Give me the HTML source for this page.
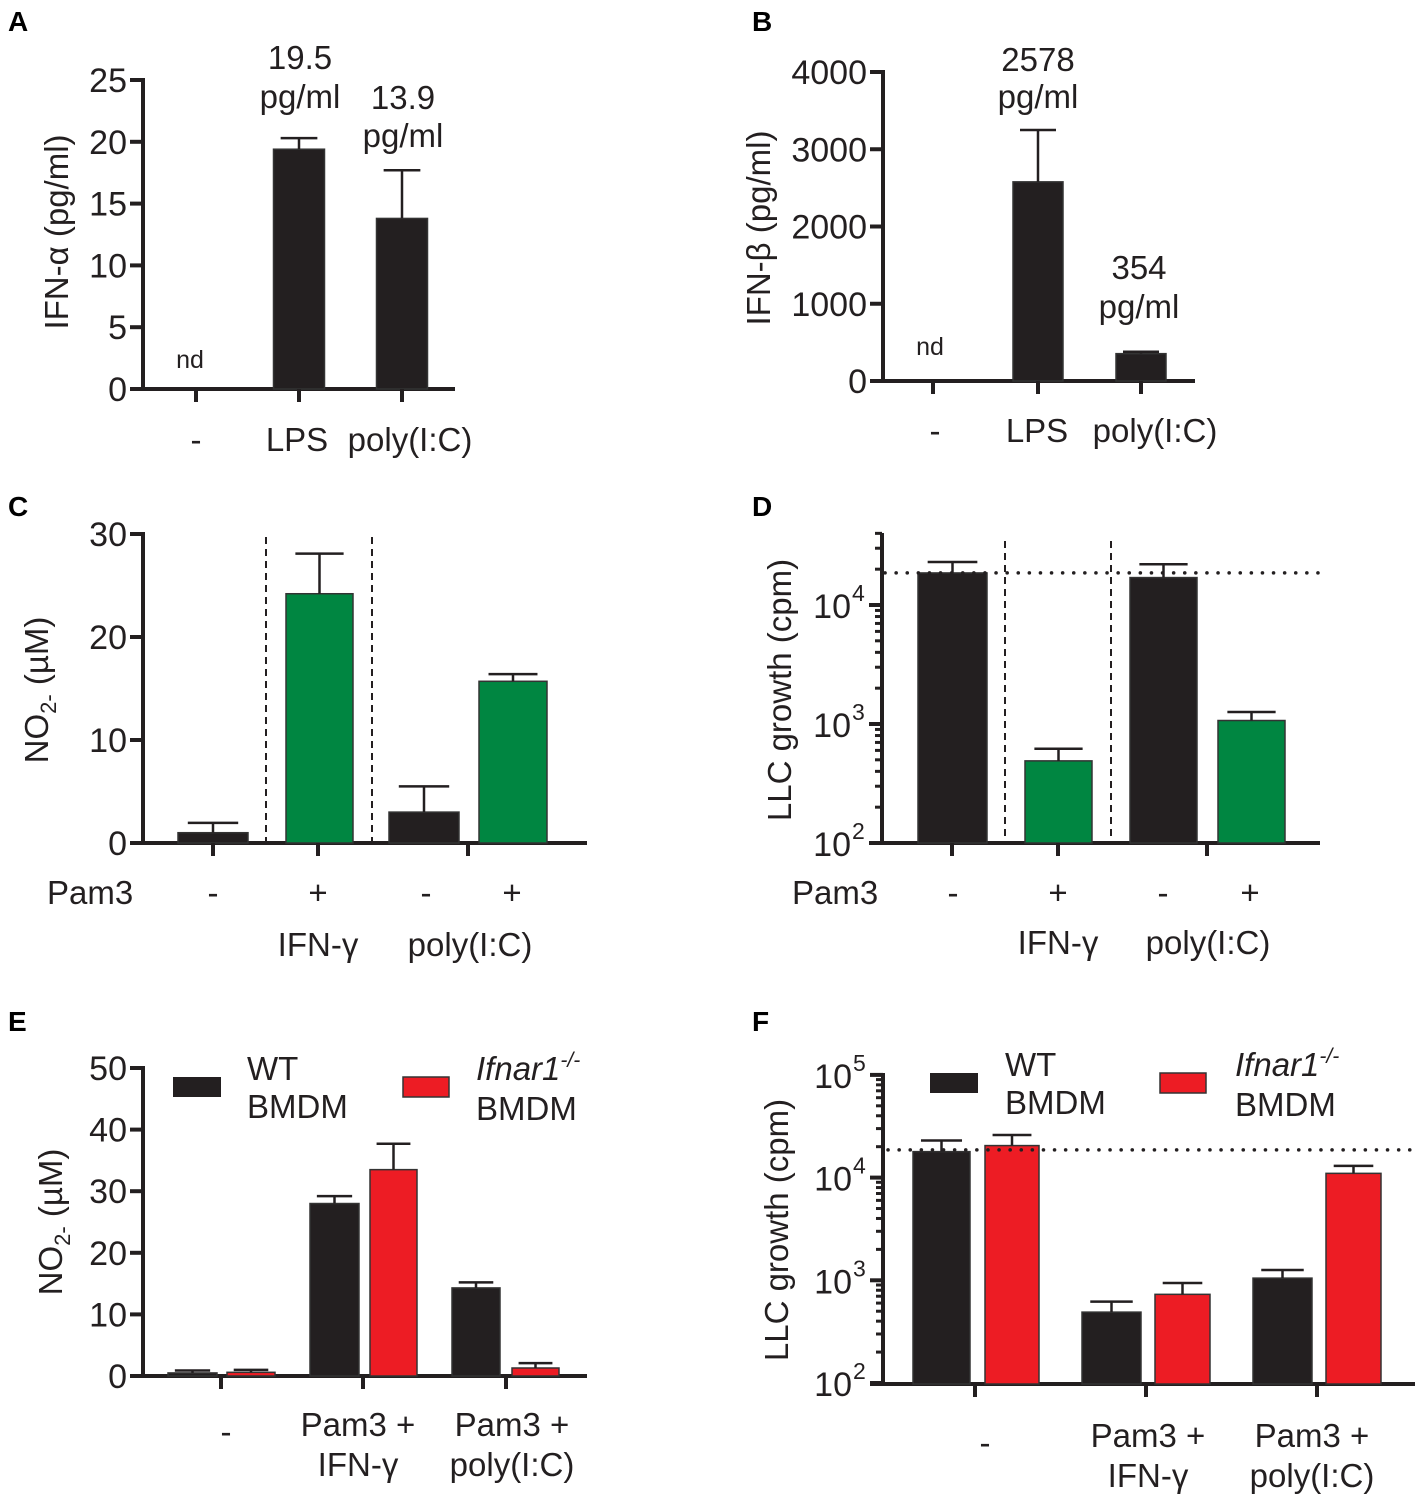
<!DOCTYPE html>
<html><head><meta charset="utf-8">
<style>
html,body{margin:0;padding:0;background:#fff;}
svg{display:block;font-family:"Liberation Sans",Arial,sans-serif;}
</style></head>
<body>
<svg id="fig" width="1417" height="1498" viewBox="0 0 1417 1498" xmlns="http://www.w3.org/2000/svg"></svg>
<script>
// ---- Panel A data ----
const aCats = ["-", "LPS", "poly(I:C)"];
const aVals = [0, 19.4, 13.8];
const aErrs = [0, 20.3, 17.7];
const aTicks = [0, 5, 10, 15, 20, 25];
// ---- Panel B data ----
const bCats = ["-", "LPS", "poly(I:C)"];
const bVals = [0, 2578, 354];
const bErrs = [0, 3250, 378];
const bTicks = [0, 1000, 2000, 3000, 4000];
// ---- Panel C data ----
const cPam3 = ["-", "+", "-", "+"];
const cVals = [1.0, 24.2, 3.0, 15.7];
const cErrs = [1.95, 28.1, 5.5, 16.4];
const cTicks = [0, 10, 20, 30];
// ---- Panel D data ----
const dPam3 = ["-", "+", "-", "+"];
const dVals = [18600, 490, 17000, 1070];
const dErrs = [23000, 620, 22000, 1260];
const dBaseline = 18600;
const dDecades = [2, 3, 4];
// ---- Panel E data ----
const eGroups = ["-", "Pam3 +|IFN-γ", "Pam3 +|poly(I:C)"];
const eWT = [0.5, 28.0, 14.3];
const eWTErr = [0.9, 29.2, 15.2];
const eKO = [0.6, 33.5, 1.3];
const eKOErr = [1.0, 37.7, 2.1];
const eTicks = [0, 10, 20, 30, 40, 50];
// ---- Panel F data ----
const fGroups = ["-", "Pam3 +|IFN-γ", "Pam3 +|poly(I:C)"];
const fWT = [17900, 490, 1050];
const fWTErr = [23000, 620, 1260];
const fKO = [20500, 730, 11000];
const fKOErr = [26000, 940, 13000];
const fBaseline = 18600;
const fDecades = [2, 3, 4, 5];

const NS = "http://www.w3.org/2000/svg";
const svg = document.getElementById("fig");
const INK = "#231f20", GREEN = "#008641", RED = "#ed1c24";
const TS = 34, LS = 33, TT = 33;
function el(tag, attrs, parent) {
  const e = document.createElementNS(NS, tag);
  for (const k in attrs) e.setAttribute(k, attrs[k]);
  (parent || svg).appendChild(e);
  return e;
}
function txt(x, y, s, size, anchor, parent, extra) {
  const t = el("text", Object.assign({x: x, y: y, "font-size": size, "text-anchor": anchor || "middle", fill: INK}, extra || {}), parent);
  t.textContent = s;
  return t;
}
function linScale(v0, v1, p0, p1) { return v => p0 + (v - v0) / (v1 - v0) * (p1 - p0); }
function logScale(d0, p0, perDec) { return v => p0 - (Math.log10(v) - d0) * perDec; }

function panelLetter(x, y, s) {
  const t = txt(x, y, s, 28, "start", null, {"font-weight": "bold", fill: "#000"});
  
  
}
function yTitle(x, y, parts, g) {
  const t = el("text", {transform: `translate(${x},${y}) rotate(-90)`, "font-size": TT, "text-anchor": "middle", fill: INK}, g);
  parts.forEach(p => {
    const s = el("tspan", p.sub ? {"font-size": 22, dy: 8} : (p.after ? {dy: -8} : {}), t);
    s.textContent = p.t;
  });
  
  
}
function linearAxis(g, ax, y, ticks, axTop, xEnd, axBot) {
  const yl = el("line", {x1: ax, y1: axTop - 2, x2: ax, y2: axBot + 2, stroke: INK, "stroke-width": 4}, g);
  
  
  ticks.forEach(v => {
    el("line", {x1: ax - 13, y1: y(v), x2: ax, y2: y(v), stroke: INK, "stroke-width": 4}, g);
    const t = txt(ax - 16, y(v) + 12, String(v), TS, "end", g);
    
    
  });
  const xl = el("line", {x1: ax - 13, y1: axBot, x2: xEnd, y2: axBot, stroke: INK, "stroke-width": 4}, g);
  
  
}
function logAxis(g, ax, y, decades, axTop, xEnd, axBot) {
  const yl = el("line", {x1: ax, y1: axTop, x2: ax, y2: axBot + 2, stroke: INK, "stroke-width": 4}, g);
  
  
  decades.forEach((d, i) => {
    const v = Math.pow(10, d);
    el("line", {x1: ax - 13, y1: y(v), x2: ax, y2: y(v), stroke: INK, "stroke-width": 4}, g);
    const t = txt(ax - 31, y(v) + 13, "10", TS, "end", g);
    
    
    txt(ax - 30, y(v) - 4, String(d), 23, "start", g);
    for (let m = 2; m <= 9; m++) {
      const mv = v * m;
      if (y(mv) < axTop) break;
      el("line", {x1: ax - 7, y1: y(mv), x2: ax, y2: y(mv), stroke: INK, "stroke-width": 3}, g);
    }
  });
  const xl = el("line", {x1: ax - 13, y1: axBot, x2: xEnd, y2: axBot, stroke: INK, "stroke-width": 4}, g);
  
  
}
function bar(g, x0, x1, v, e, y, base, color, name) {
  if (v > 0) {
    const r = el("rect", {x: x0, y: y(v), width: x1 - x0, height: base - y(v), fill: color, stroke: "#333", "stroke-width": 1.5}, g);
    
    
  }
  if (e > v) {
    const cx = (x0 + x1) / 2, hw = (x1 - x0) * 0.36;
    el("line", {x1: cx, y1: y(v), x2: cx, y2: y(e), stroke: INK, "stroke-width": 2.5}, g);
    el("line", {x1: cx - hw, y1: y(e), x2: cx + hw, y2: y(e), stroke: INK, "stroke-width": 2.5}, g);
  }
}
function xTick(g, x, base) { el("line", {x1: x, y1: base, x2: x, y2: base + 13, stroke: INK, "stroke-width": 4}, g); }
function dotted(g, x0, x1, yy) {
  const l = el("line", {x1: x0, y1: yy, x2: x1, y2: yy, stroke: INK, "stroke-width": 3.5, "stroke-dasharray": "0.1 11", "stroke-linecap": "round"}, g);
  
  
}
function dashedV(g, x, y0, y1) {
  const l = el("line", {x1: x, y1: y0, x2: x, y2: y1, stroke: INK, "stroke-width": 2, "stroke-dasharray": "7 5"}, g);
  
  
}

// ===== Panel A =====
(function () {
  const g = el("g", {});
  
  
  panelLetter(8, 31, "A");
  const y = linScale(0, 25, 389, 80);
  linearAxis(g, 143, y, aTicks, 80, 455, 389);
  yTitle(68, 232, [{t: "IFN-α (pg/ml)"}], g);
  const cx = [196, 299, 402], w = 51;
  aCats.forEach((c, i) => {
    bar(g, cx[i] - w / 2, cx[i] + w / 2, aVals[i], aErrs[i], y, 389, INK, "bar-" + c);
    xTick(g, cx[i], 389);
  });
  [[196, "-"], [297, "LPS"], [410, "poly(I:C)"]].forEach(p => txt(p[0], 451, p[1], LS, "middle", g));
  txt(190, 368, "nd", 25, "middle", g);
  txt(300, 69, "19.5", LS, "middle", g);
  txt(300, 108, "pg/ml", LS, "middle", g);
  txt(403, 109, "13.9", LS, "middle", g);
  txt(403, 147, "pg/ml", LS, "middle", g);
})();

// ===== Panel B =====
(function () {
  const g = el("g", {});
  
  
  panelLetter(752, 31, "B");
  const y = linScale(0, 4000, 381, 72);
  linearAxis(g, 883, y, bTicks, 72, 1195, 381);
  yTitle(770, 228, [{t: "IFN-β (pg/ml)"}], g);
  const cx = [933, 1038, 1141], w = 50;
  bCats.forEach((c, i) => {
    bar(g, cx[i] - w / 2, cx[i] + w / 2, bVals[i], bErrs[i], y, 381, INK, "bar-" + c);
    xTick(g, cx[i], 381);
  });
  [[935, "-"], [1037, "LPS"], [1155, "poly(I:C)"]].forEach(p => txt(p[0], 442, p[1], LS, "middle", g));
  txt(930, 355, "nd", 25, "middle", g);
  txt(1038, 71, String(bVals[1]), LS, "middle", g);
  txt(1038, 108, "pg/ml", LS, "middle", g);
  txt(1139, 279, String(bVals[2]), LS, "middle", g);
  txt(1139, 318, "pg/ml", LS, "middle", g);
})();

// ===== Panel C =====
(function () {
  const g = el("g", {});
  
  
  panelLetter(8, 516, "C");
  const y = linScale(0, 30, 843, 534);
  linearAxis(g, 143, y, cTicks, 534, 587, 843);
  yTitle(48, 690, [{t: "NO"}, {t: "2-", sub: true}, {t: " (µM)", after: true}], g);
  const xs = [[178, 248], [286, 353], [389, 459], [479, 547]];
  const col = [INK, GREEN, INK, GREEN];
  dashedV(g, 266, 537, 841);
  dashedV(g, 372, 537, 841);
  cVals.forEach((v, i) => bar(g, xs[i][0], xs[i][1], v, cErrs[i], y, 843, col[i], "bar-c-" + i));
  [213, 318, 468].forEach(x => xTick(g, x, 843));
  txt(47, 904, "Pam3", LS, "start", g);
  [213, 318, 426, 512].forEach((x, i) => txt(x, 904, cPam3[i], LS, "middle", g));
  txt(318, 956, "IFN-γ", LS, "middle", g);
  txt(470, 956, "poly(I:C)", LS, "middle", g);
})();

// ===== Panel D =====
(function () {
  const g = el("g", {});
  
  
  panelLetter(752, 516, "D");
  const y = logScale(2, 843, 119);
  logAxis(g, 882, y, dDecades, 533, 1320, 843);
  yTitle(791, 690, [{t: "LLC growth (cpm)"}], g);
  const xs = [[918, 987], [1025, 1092], [1130, 1197], [1218, 1285]];
  const col = [INK, GREEN, INK, GREEN];
  dashedV(g, 1005, 541, 841);
  dashedV(g, 1111, 541, 841);
  dVals.forEach((v, i) => bar(g, xs[i][0], xs[i][1], v, dErrs[i], y, 843, col[i], "bar-d-" + i));
  dotted(g, 885, 1318, y(dBaseline));
  [952, 1058, 1207].forEach(x => xTick(g, x, 843));
  txt(792, 904, "Pam3", LS, "start", g);
  [953, 1058, 1163, 1250].forEach((x, i) => txt(x, 904, dPam3[i], LS, "middle", g));
  txt(1058, 954, "IFN-γ", LS, "middle", g);
  txt(1208, 954, "poly(I:C)", LS, "middle", g);
})();

function legend(g, bx, by, tx) {
  const r1 = el("rect", {x: bx[0], y: by, width: 48, height: 20, fill: INK}, g);
  
  
  txt(tx[0], by + 3, "WT", LS, "start", g);
  txt(tx[0], by + 41, "BMDM", LS, "start", g);
  const r2 = el("rect", {x: bx[1], y: by, width: 46, height: 20, fill: RED, stroke: "#333", "stroke-width": 1.5}, g);
  
  
  const t = txt(tx[1], by + 3, "", LS, "start", g, {"font-style": "italic"});
  t.textContent = "Ifnar1";
  const s = el("tspan", {dy: -13, "font-size": 21}, t);
  s.textContent = "-/-";
  txt(tx[1], by + 43, "BMDM", LS, "start", g);
}
function groupLabels(g, cx, labels, y1, y2, ySingle) {
  labels.forEach((l, i) => {
    const p = l.split("|");
    if (p.length === 1) txt(cx[i], ySingle, p[0], LS, "middle", g);
    else { txt(cx[i], y1, p[0], LS, "middle", g); txt(cx[i], y2, p[1], LS, "middle", g); }
  });
}

// ===== Panel E =====
(function () {
  const g = el("g", {});
  
  
  panelLetter(8, 1031, "E");
  const y = linScale(0, 50, 1376, 1068);
  linearAxis(g, 143, y, eTicks, 1068, 587, 1376);
  yTitle(62, 1222, [{t: "NO"}, {t: "2-", sub: true}, {t: " (µM)", after: true}], g);
  const wt = [[168, 217], [310, 359], [452, 500]];
  const ko = [[227, 275], [370, 417], [512, 559]];
  eWT.forEach((v, i) => bar(g, wt[i][0], wt[i][1], v, eWTErr[i], y, 1376, INK, "bar-e-wt-" + i));
  eKO.forEach((v, i) => bar(g, ko[i][0], ko[i][1], v, eKOErr[i], y, 1376, RED, "bar-e-ko-" + i));
  [221, 363, 506].forEach(x => xTick(g, x, 1376));
  legend(g, [173, 403], 1077, [247, 476]);
  groupLabels(g, [226, 358, 512], eGroups, 1436, 1476, 1443);
})();

// ===== Panel F =====
(function () {
  const g = el("g", {});
  
  
  panelLetter(752, 1031, "F");
  const y = logScale(2, 1383, 102.7);
  logAxis(g, 883, y, fDecades, 1073, 1415, 1384);
  yTitle(788, 1230, [{t: "LLC growth (cpm)"}], g);
  const wt = [[913, 970], [1082, 1141], [1253, 1312]];
  const ko = [[985, 1039], [1155, 1210], [1326, 1381]];
  fWT.forEach((v, i) => bar(g, wt[i][0], wt[i][1], v, fWTErr[i], y, 1384, INK, "bar-f-wt-" + i));
  fKO.forEach((v, i) => bar(g, ko[i][0], ko[i][1], v, fKOErr[i], y, 1384, RED, "bar-f-ko-" + i));
  dotted(g, 888, 1413, y(fBaseline));
  [975, 1146, 1317].forEach(x => xTick(g, x, 1384));
  legend(g, [930, 1160], 1073, [1005, 1235]);
  groupLabels(g, [985, 1148, 1312], fGroups, 1447, 1487, 1454);
})();
</script>
</body></html>
